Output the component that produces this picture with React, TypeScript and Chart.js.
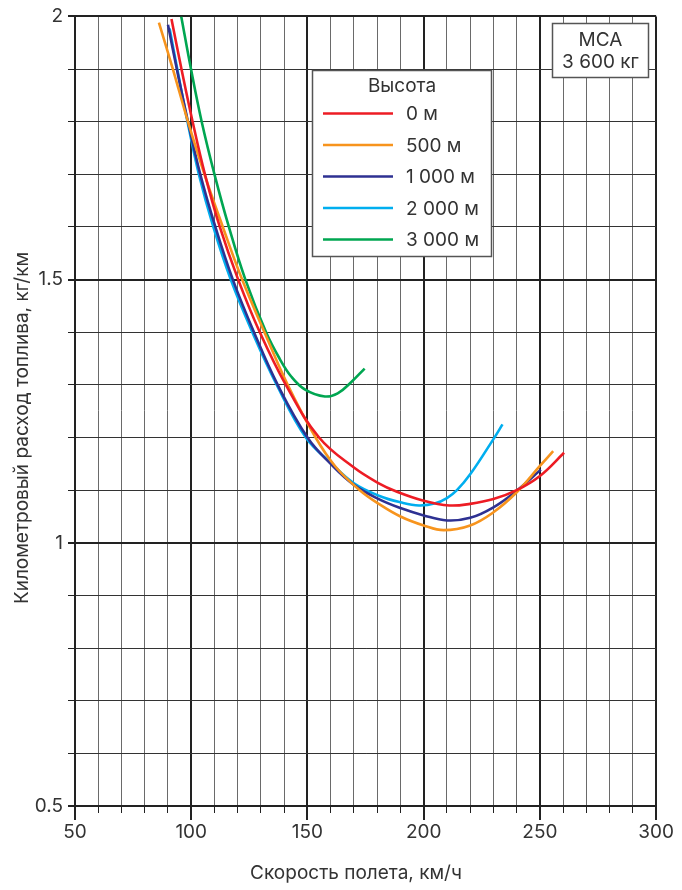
import { useEffect, useRef } from 'react';
import { Chart, registerables } from 'chart.js';

Chart.register(...registerables);

// Fuel consumption per km vs. flight speed, by altitude
const altitudeLabels = ['0 м', '500 м', '1 000 м', '2 000 м', '3 000 м'];
const altitudeColors = ['#ed1c24', '#f7941d', '#2e3192', '#00aeef', '#00a651'];

const speed0 = [91.5, 95.8, 100.6, 105.9, 112.3, 120.2, 129.5, 140.7, 155, 170, 180.7, 188, 200, 211, 220, 230, 240, 250, 260.4];
const fuel0 = [1.995, 1.9, 1.8, 1.7, 1.6, 1.5, 1.4, 1.3, 1.2, 1.143, 1.113, 1.098, 1.08, 1.071, 1.074, 1.083, 1.1, 1.127, 1.171];

const speed500 = [86.1, 92.1, 98.6, 105.7, 113.6, 121.9, 131.5, 141.5, 153.5, 162, 172.5, 180.7, 190, 200, 208.6, 220, 230, 240, 250, 255.7];
const fuel500 = [1.988, 1.9, 1.8, 1.7, 1.6, 1.5, 1.4, 1.3, 1.2, 1.145, 1.1, 1.074, 1.05, 1.033, 1.024, 1.033, 1.058, 1.096, 1.146, 1.174];

const speed1000 = [90, 93.8, 98.6, 103.9, 110.4, 117.9, 127, 137.2, 150, 160, 170, 180.7, 190, 200, 210, 220, 230, 240, 250.4];
const fuel1000 = [1.984, 1.9, 1.8, 1.7, 1.6, 1.5, 1.4, 1.3, 1.2, 1.15, 1.11, 1.083, 1.066, 1.052, 1.0425, 1.0475, 1.0675, 1.099, 1.139];

const speed2000 = [90.7, 94, 98.4, 103.3, 109.5, 117, 126.3, 136.8, 149.3, 160, 170, 181, 190, 198, 205, 210, 214.3, 220, 230, 233.9];
const fuel2000 = [1.977, 1.9, 1.8, 1.7, 1.6, 1.5, 1.4, 1.3, 1.2, 1.152, 1.113, 1.089, 1.077, 1.071, 1.075, 1.085, 1.1, 1.13, 1.197, 1.225];

const speed3000 = [95.7, 99.9, 104.5, 110, 116.2, 123.3, 132.2, 138, 143, 149, 157.5, 163, 169, 174.6];
const fuel3000 = [2.0, 1.9, 1.8, 1.7, 1.6, 1.5, 1.4, 1.35, 1.316, 1.291, 1.278, 1.284, 1.306, 1.331];

const speedSeries = [speed0, speed500, speed1000, speed2000, speed3000];
const fuelSeries = [fuel0, fuel500, fuel1000, fuel2000, fuel3000];

const xTickLabels = [50, 100, 150, 200, 250, 300];
const yTickLabels = [0.5, 1, 1.5, 2];

const xTitle = 'Скорость полета, км/ч';
const yTitle = 'Километровый расход топлива, кг/км';
const legendTitle = 'Высота';
const noteLines = ['МСА', '3 600 кг'];

const FONT = 'Inter, "Noto Sans", sans-serif';
const TEXT = '#333333';
const SIZE = 19;

const isMajorX = (v: number) => xTickLabels.some((t) => Math.abs(t - v) < 1e-6);
const isMajorY = (v: number) => yTickLabels.some((t) => Math.abs(t - v) < 1e-6);

const overlayPlugin = {
  id: 'overlay',
  afterDraw(chart: any) {
    const { ctx, chartArea, scales } = chart;
    const xs = scales.x;
    ctx.save();

    // longer tick marks under the major speed values
    ctx.strokeStyle = '#222';
    ctx.lineWidth = 2;
    xTickLabels.forEach((v) => {
      const px = Math.round(xs.getPixelForValue(v));
      ctx.beginPath();
      ctx.moveTo(px, chartArea.bottom + 6);
      ctx.lineTo(px, chartArea.bottom + 14);
      ctx.stroke();
    });

    // axis titles
    ctx.fillStyle = TEXT;
    ctx.font = `${SIZE}px ${FONT}`;
    ctx.textAlign = 'center';
    ctx.textBaseline = 'middle';
    ctx.fillText(xTitle, 356, 873);
    ctx.save();
    ctx.translate(22, 428);
    ctx.rotate(-Math.PI / 2);
    ctx.fillText(yTitle, 0, 0);
    ctx.restore();

    // legend box
    const lx = 312.5, ly = 70.5, lw = 179, lh = 186;
    ctx.fillStyle = '#ffffff';
    ctx.fillRect(lx, ly, lw, lh);
    ctx.strokeStyle = '#555';
    ctx.lineWidth = 1.5;
    ctx.strokeRect(lx, ly, lw, lh);
    ctx.fillStyle = TEXT;
    ctx.font = `${SIZE}px ${FONT}`;
    ctx.textAlign = 'center';
    ctx.fillText(legendTitle, 402, 86);
    ctx.textAlign = 'left';
    chart.data.datasets.forEach((ds: any, i: number) => {
      const y = 113.5 + i * 31.5;
      ctx.strokeStyle = ds.borderColor;
      ctx.lineWidth = 2.5;
      ctx.beginPath();
      ctx.moveTo(323, y);
      ctx.lineTo(393, y);
      ctx.stroke();
      ctx.fillStyle = TEXT;
      ctx.fillText(ds.label, 406, y + 1);
    });

    // atmosphere / weight note
    const nx = 552.5, ny = 23.5, nw = 96, nh = 54;
    ctx.fillStyle = '#ffffff';
    ctx.fillRect(nx, ny, nw, nh);
    ctx.strokeStyle = '#555';
    ctx.lineWidth = 1.5;
    ctx.strokeRect(nx, ny, nw, nh);
    ctx.fillStyle = TEXT;
    ctx.textAlign = 'center';
    ctx.fillText(noteLines[0], nx + nw / 2, 40);
    ctx.fillText(noteLines[1], nx + nw / 2, 62);

    ctx.restore();
  },
};

export default function App() {
  const ref = useRef<HTMLCanvasElement | null>(null);

  useEffect(() => {
    document.body.style.margin = '0';
    const canvas = ref.current;
    if (!canvas) return;

    const datasets = altitudeLabels.map((label, i) => ({
      label,
      data: speedSeries[i].map((x, j) => ({ x, y: fuelSeries[i][j] })),
      borderColor: altitudeColors[i],
      backgroundColor: altitudeColors[i],
      borderWidth: 2.6,
      pointRadius: 0,
      fill: false,
      tension: 0.4,
    }));

    const chart = new Chart(canvas, {
      type: 'line',
      data: { datasets },
      options: {
        responsive: false,
        animation: false,
        devicePixelRatio: 1,
        layout: { padding: { top: 13, right: 24, left: 0, bottom: 0 } },
        plugins: {
          legend: { display: false },
          tooltip: { enabled: false },
        },
        scales: {
          x: {
            type: 'linear',
            min: 50,
            max: 300,
            afterFit: (s: any) => {
              s.height = 84;
            },
            ticks: {
              stepSize: 10,
              autoSkip: false,
              maxRotation: 0,
              padding: 8,
              color: TEXT,
              font: { family: FONT, size: SIZE },
              callback: (v: any) => (isMajorX(Number(v)) ? String(Math.round(Number(v))) : ''),
            },
            grid: {
              color: (c: any) => (isMajorX(c.tick.value) ? '#222' : '#6a6a6a'),
              lineWidth: (c: any) => (isMajorX(c.tick.value) ? 2 : 1),
              tickColor: '#222',
              tickLength: 7,
            },
            border: { display: true, color: '#222', width: 2 },
          },
          y: {
            type: 'linear',
            min: 0.5,
            max: 2,
            afterFit: (s: any) => {
              s.width = 75;
            },
            ticks: {
              stepSize: 0.1,
              autoSkip: false,
              padding: 5,
              color: TEXT,
              font: { family: FONT, size: SIZE },
              callback: (v: any) => (isMajorY(Number(v)) ? String(Math.round(Number(v) * 10) / 10) : ''),
            },
            grid: {
              color: (c: any) => (isMajorY(c.tick.value) ? '#222' : '#333'),
              lineWidth: (c: any) => (isMajorY(c.tick.value) ? 2 : 1),
              tickColor: '#222',
              tickLength: 7,
            },
            border: { display: true, color: '#222', width: 2 },
          },
        },
      },
      plugins: [overlayPlugin],
    });

    return () => chart.destroy();
  }, []);

  return <canvas ref={ref} width={682} height={890} />;
}
